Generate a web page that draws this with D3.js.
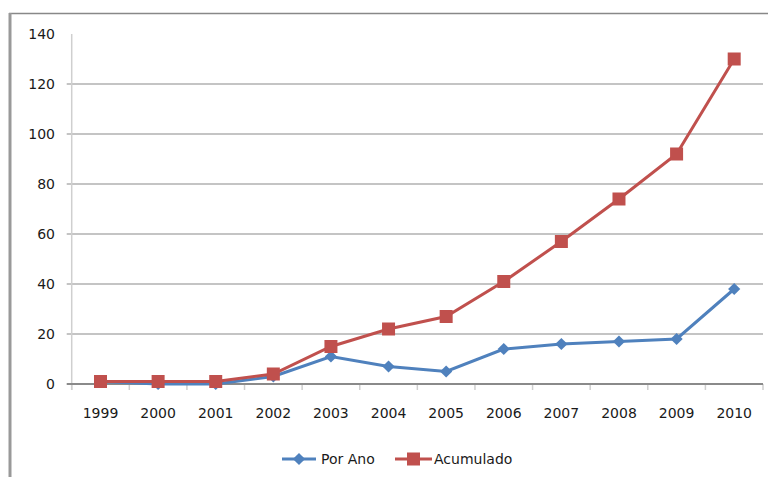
<!DOCTYPE html>
<html><head><meta charset="utf-8">
<script src="https://cdn.jsdelivr.net/npm/d3@7"></script>
<style>body{margin:0;background:#fff}svg{display:block}text{font-family:"DejaVu Sans",sans-serif;fill:#1a1a1a}</style>
</head><body>
<svg id="c" width="768" height="477"></svg>
<script>
const years = ["1999","2000","2001","2002","2003","2004","2005","2006","2007","2008","2009","2010"];
const porAno = [1,0,0,3,11,7,5,14,16,17,18,38];
const acumulado = [1,1,1,4,15,22,27,41,57,74,92,130];
const yTicks = [0,20,40,60,80,100,120,140];
const seriesNames = ["Por Ano","Acumulado"];
const colors = ["#4f81bd","#c0504d"];

const svg = d3.select("#c");
// outer frame
svg.append("line").attr("x1",9).attr("x2",768).attr("y1",13.5).attr("y2",13.5).attr("stroke","#888").attr("stroke-width",1.5);
svg.append("line").attr("x1",10).attr("x2",10).attr("y1",13).attr("y2",477).attr("stroke","#999").attr("stroke-width",3);

const L=71.7, R=763, T=34, B=384;
const x = d3.scaleBand().domain(years).range([L,R]);
const y = d3.scaleLinear().domain([0,140]).range([B,T]);

// gridlines (no line at top)
svg.append("g").selectAll("line").data(yTicks.filter(d=>d>0 && d<140)).join("line")
  .attr("x1",L-5).attr("x2",R).attr("y1",d=>y(d)).attr("y2",d=>y(d)).attr("stroke","#8a8a8a").attr("stroke-width",1.2);
// y axis line
svg.append("line").attr("x1",L).attr("x2",L).attr("y1",T).attr("y2",B+6).attr("stroke","#cfcfcf").attr("stroke-width",1.5);
// y labels
svg.append("g").selectAll("text").data(yTicks).join("text")
  .attr("x",55).attr("y",d=>y(d)).attr("dy","0.36em").attr("text-anchor","end").attr("font-size",14).text(d=>d);
// x ticks
const tickPos = years.map((d)=>x(d)).concat([R]);
svg.append("g").selectAll("line").data(tickPos).join("line")
  .attr("x1",d=>d).attr("x2",d=>d).attr("y1",B).attr("y2",B+6).attr("stroke","#cfcfcf").attr("stroke-width",1.5);
// x axis line
svg.append("line").attr("x1",L-5).attr("x2",R).attr("y1",B).attr("y2",B).attr("stroke","#8a8a8a").attr("stroke-width",2);
// x labels
svg.append("g").selectAll("text").data(years).join("text")
  .attr("x",d=>x(d)+x.bandwidth()/2).attr("y",413).attr("dy","0.36em").attr("text-anchor","middle").attr("font-size",14).text(d=>d);

const cx = d=>x(d)+x.bandwidth()/2;
const line = d3.line().x((d,i)=>cx(years[i])).y(d=>y(d));
const diamond = d3.symbol().type(d3.symbolDiamond2).size(95);

// Por Ano
svg.append("path").datum(porAno).attr("d",line).attr("fill","none").attr("stroke",colors[0]).attr("stroke-width",3);
svg.append("g").selectAll("path").data(porAno).join("path")
  .attr("d",diamond).attr("transform",(d,i)=>`translate(${cx(years[i])},${y(d)})`).attr("fill",colors[0]);
// Acumulado
svg.append("path").datum(acumulado).attr("d",line).attr("fill","none").attr("stroke",colors[1]).attr("stroke-width",3);
svg.append("g").selectAll("rect").data(acumulado).join("rect")
  .attr("x",(d,i)=>cx(years[i])-6.5).attr("y",d=>y(d)-6.5).attr("width",13).attr("height",13).attr("fill",colors[1]);

// legend
const lg = svg.append("g");
const ly = 459;
lg.append("line").attr("x1",282).attr("x2",316).attr("y1",ly).attr("y2",ly).attr("stroke",colors[0]).attr("stroke-width",3);
lg.append("path").attr("d",diamond).attr("transform",`translate(299,${ly})`).attr("fill",colors[0]);
lg.append("text").attr("x",321).attr("y",ly).attr("dy","0.36em").attr("font-size",14).text(seriesNames[0]);
lg.append("line").attr("x1",395).attr("x2",432).attr("y1",ly).attr("y2",ly).attr("stroke",colors[1]).attr("stroke-width",3);
lg.append("rect").attr("x",407).attr("y",ly-6.5).attr("width",13).attr("height",13).attr("fill",colors[1]);
lg.append("text").attr("x",434).attr("y",ly).attr("dy","0.36em").attr("font-size",14).text(seriesNames[1]);
</script>
</body></html>
